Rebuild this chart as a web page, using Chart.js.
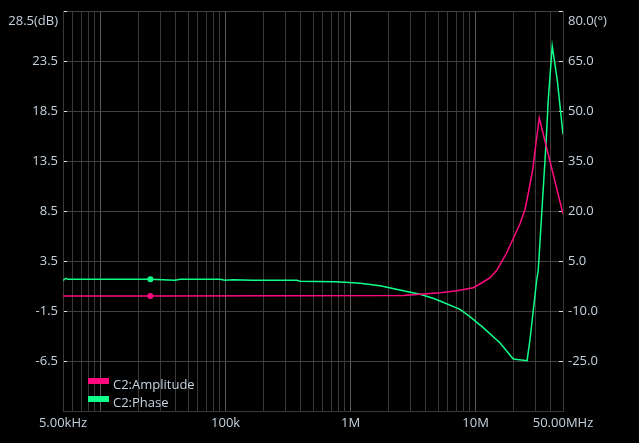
<!DOCTYPE html>
<html lang="en">
<head>
<meta charset="UTF-8" />
<title>C2 Amplitude / Phase</title>
<style>
  body { margin: 0; background-color: #000; }
  #chart { display: block; }
</style>
</head>
<body>
<canvas id="chart" width="639" height="443"></canvas>
<script src="https://cdn.jsdelivr.net/npm/chart.js"></script>
<script>
// amplitude (dB) vs frequency (Hz)
const ampFreq = [5e3, 25e3, 2.64e6, 3.59e6, 5.19e6, 7.06e6, 9.58e6, 11.5e6, 13.0e6, 14.8e6,
  17.7e6, 20.6e6, 22.6e6, 24.8e6, 26.4e6, 28.6e6, 30.4e6, 32.3e6, 50e6];
const ampDb = [0, 0, 0.05, 0.17, 0.33, 0.53, 0.83, 1.4, 1.8, 2.6,
  4.3, 6.1, 7.2, 8.6, 10.3, 12.6, 15.3, 17.8, 8.2];

// phase (deg) vs frequency (Hz)
const phaseFreq = [5e3, 5.28e3, 5.48e3, 25e3, 39.4e3, 43.2e3, 90e3, 99e3, 115e3, 163e3,
  372e3, 394e3, 750e3, 902e3, 1.19e6, 1.72e6, 2.48e6, 3.59e6, 4.56e6, 5.19e6,
  7.5e6, 9.0e6, 11.5e6, 15.7e6, 20.0e6, 25.8e6, 27.2e6, 30.8e6, 31.7e6, 33.8e6,
  36.6e6, 38.1e6, 41.0e6, 45.0e6, 50e6];
const phaseDeg = [-0.8, -0.2, -0.5, -0.5, -0.8, -0.5, -0.5, -0.8, -0.6, -0.8,
  -0.8, -1.1, -1.2, -1.4, -1.7, -2.4, -3.7, -5.0, -6.2, -7.0,
  -9.5, -11.7, -15.0, -19.6, -24.4, -24.9, -18.7, -0.7, 2.3, 19.4,
  40.4, 53.3, 69.5, 59.3, 43];

const markerFreq = 25e3;

const xLabels = { 5e3: '5.00kHz', 1e5: '100k', 1e6: '1M', 1e7: '10M', 5e7: '50.00MHz' };

const textColor = '#c6d3df';
const gridColor = '#383838';
const decadeColor = '#5a5a5a';
const fontFamily = '"Open Sans", "Noto Sans", sans-serif';

// grid lines at 1..9 x each decade
const gridFreqs = [];
for (let d = 1e3; d <= 1e7; d *= 10) {
  for (let m = 1; m <= 9; m++) {
    const v = m * d;
    if (v >= 5e3 && v <= 5e7) gridFreqs.push(v);
  }
}

function toPoints(xs, ys) {
  return xs.map((x, i) => ({ x: x, y: ys[i] }));
}

const insideLegend = {
  id: 'insideLegend',
  afterDatasetsDraw(chart) {
    const { ctx, chartArea } = chart;
    ctx.save();
    ctx.font = '13px ' + fontFamily;
    ctx.textBaseline = 'middle';
    chart.data.datasets.forEach((ds, i) => {
      const y = chartArea.bottom - 30 + i * 18;
      ctx.fillStyle = ds.borderColor;
      ctx.fillRect(chartArea.left + 25, y - 3, 21, 6);
      ctx.fillStyle = textColor;
      ctx.fillText(ds.label, chartArea.left + 50, y + 4);
    });
    ctx.restore();
  }
};

const markerRadius = (c) => (c.raw && c.raw.x === markerFreq ? 3 : 0);

new Chart(document.getElementById('chart'), {
  type: 'line',
  data: {
    datasets: [
      {
        label: 'C2:Amplitude',
        data: toPoints(ampFreq, ampDb),
        yAxisID: 'y',
        borderColor: '#ff0a7e',
        backgroundColor: '#ff0a7e',
        borderWidth: 1.5,
        pointRadius: markerRadius,
        pointBorderWidth: 0,
        tension: 0
      },
      {
        label: 'C2:Phase',
        data: toPoints(phaseFreq, phaseDeg),
        yAxisID: 'y1',
        borderColor: '#10ff88',
        backgroundColor: '#10ff88',
        borderWidth: 1.5,
        pointRadius: markerRadius,
        pointBorderWidth: 0,
        tension: 0
      }
    ]
  },
  plugins: [insideLegend],
  options: {
    responsive: false,
    animation: false,
    devicePixelRatio: 1,
    layout: { padding: { top: 11 } },
    plugins: {
      legend: { display: false },
      tooltip: { enabled: false }
    },
    scales: {
      x: {
        type: 'logarithmic',
        min: 5e3,
        max: 5e7,
        afterBuildTicks: (s) => { s.ticks = gridFreqs.map((v) => ({ value: v })); },
        afterFit: (s) => { s.height = 32; s.paddingLeft = 0; s.paddingRight = 0; },
        ticks: {
          autoSkip: false,
          maxRotation: 0,
          padding: 4,
          color: textColor,
          font: { family: fontFamily, size: 13 },
          callback: (v) => xLabels[v] || ''
        },
        grid: {
          drawTicks: false,
          color: (c) => {
            const v = c.tick ? c.tick.value : 0;
            return Math.abs(Math.log10(v) - Math.round(Math.log10(v))) < 1e-9 ? decadeColor : gridColor;
          }
        },
        border: { color: gridColor }
      },
      y: {
        position: 'left',
        min: -11.5,
        max: 28.5,
        afterFit: (s) => { s.width = 63; s.paddingTop = 0; s.paddingBottom = 0; },
        ticks: {
          stepSize: 5,
          padding: 9,
          color: textColor,
          font: { family: fontFamily, size: 13, lineHeight: 1.54 },
          callback: (v) => v === 28.5 ? ['', '28.5(dB)'] : (v === -11.5 ? '' : v.toFixed(1))
        },
        grid: { color: '#404040', tickLength: -4, tickColor: '#dddddd' },
        border: { color: gridColor }
      },
      y1: {
        position: 'right',
        min: -40,
        max: 80,
        afterFit: (s) => { s.width = 76; s.paddingTop = 0; s.paddingBottom = 0; },
        ticks: {
          stepSize: 15,
          padding: 9,
          color: textColor,
          font: { family: fontFamily, size: 13, lineHeight: 1.54 },
          callback: (v) => v === 80 ? ['', '80.0(°)'] : (v === -40 ? '' : v.toFixed(1))
        },
        grid: { drawOnChartArea: false, tickLength: -4, tickColor: '#dddddd' },
        border: { color: gridColor }
      }
    }
  }
});
</script>
</body>
</html>
